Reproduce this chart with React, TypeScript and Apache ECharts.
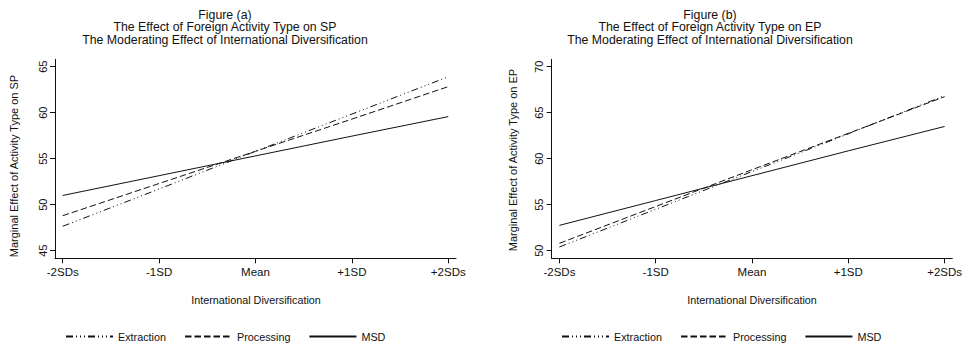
import React, { useEffect, useRef } from "react";
import * as echarts from "echarts";

const xValues = [-2, -1, 0, 1, 2];
const xTickLabels = ["-2SDs", "-1SD", "Mean", "+1SD", "+2SDs"];
const seriesNames = ["Extraction", "Processing", "MSD"];

// Figure (a): effect on SP
const spExtraction = [47.65, 51.7, 55.8, 59.85, 63.9];
const spProcessing = [48.8, 52.3, 55.8, 59.3, 62.83];
const spMSD = [51.0, 53.15, 55.3, 57.45, 59.57];
const spTicks = [45, 50, 55, 60, 65];

// Figure (b): effect on EP
const epExtraction = [50.4, 54.5, 58.6, 62.7, 66.85];
const epProcessing = [50.8, 54.8, 58.8, 62.75, 66.74];
const epMSD = [52.75, 55.45, 58.15, 60.85, 63.5];
const epTicks = [50, 55, 60, 65, 70];

const titlesA = [
  "Figure (a)",
  "The Effect of Foreign Activity Type on SP",
  "The Moderating Effect of International Diversification",
];
const titlesB = [
  "Figure (b)",
  "The Effect of Foreign Activity Type on EP",
  "The Moderating Effect of International Diversification",
];
const xAxisTitle = "International Diversification";
const yTitleA = "Marginal Effect of Activity Type on SP";
const yTitleB = "Marginal Effect of Activity Type on EP";

const FONT = "'Liberation Sans', Arial, Helvetica, sans-serif";
const INK = "#111";
const dashTypes: Record<string, any> = {
  Extraction: [7, 3, 1, 3, 1, 3, 1, 3],
  Processing: [6.5, 3],
  MSD: "solid",
};

export default function App() {
  const ref = useRef<HTMLDivElement>(null);
  useEffect(() => {
    if (!ref.current) return;
    const chart = echarts.init(ref.current, null, { renderer: "svg" });

    const pair = (vals: number[]) => xValues.map((x, i) => [x, vals[i]]);
    const mkSeries = (gi: number, data: number[][][]) =>
      seriesNames.map((name, k) => ({
        type: "line",
        name,
        xAxisIndex: gi,
        yAxisIndex: gi,
        data: data[k],
        symbol: "none",
        showSymbol: false,
        silent: true,
        lineStyle: { color: INK, width: 1, type: dashTypes[name] },
        itemStyle: { color: INK },
      }));

    const xAxis = (gi: number) => ({
      type: "value",
      gridIndex: gi,
      min: -2.08,
      max: 2.08,
      splitLine: { show: false },
      axisLine: { show: true, onZero: false, lineStyle: { color: INK, width: 1 } },
      axisTick: { show: true, length: 5, customValues: xValues, lineStyle: { color: INK } },
      axisLabel: {
        customValues: xValues,
        margin: 8,
        color: INK,
        fontFamily: FONT,
        fontSize: 11.5,
        formatter: (v: number) => xTickLabels[xValues.indexOf(Math.round(v))] ?? "",
      },
    });
    const yAxis = (gi: number, min: number, max: number, ticks: number[]) => ({
      type: "value",
      gridIndex: gi,
      min,
      max,
      splitLine: { show: false },
      axisLine: { show: true, onZero: false, lineStyle: { color: INK, width: 1 } },
      axisTick: { show: true, length: 5, customValues: ticks, lineStyle: { color: INK } },
      axisLabel: {
        customValues: ticks,
        rotate: 90,
        margin: 7,
        color: INK,
        fontFamily: FONT,
        fontSize: 11,
      },
    });

    const titleTexts = (lines: string[], cx: number) =>
      lines.map((t, i) => ({
        type: "text",
        x: cx,
        y: 14.5 + i * 12.5,
        style: {
          text: t,
          fill: INK,
          font: `12.3px ${FONT}`,
          align: "center",
          verticalAlign: "middle",
        },
      }));

    const legend = (left: number) => ({
      show: true,
      left,
      top: 331,
      orient: "horizontal",
      icon: "inherit",
      itemWidth: 47,
      itemHeight: 12,
      itemGap: 18,
      padding: 0,
      data: seriesNames,
      selectedMode: false,
      itemStyle: { opacity: 0 },
      textStyle: { color: INK, fontFamily: FONT, fontSize: 10.8 },
    });

    chart.setOption({
      animation: false,
      backgroundColor: "#fff",
      grid: [
        { left: 55, top: 59.3, width: 401, height: 199 },
        { left: 551.7, top: 59.3, width: 400.6, height: 199 },
      ],
      xAxis: [xAxis(0), xAxis(1)],
      yAxis: [yAxis(0, 44.17, 65.8, spTicks), yAxis(1, 49.17, 70.8, epTicks)],
      legend: [legend(65), legend(561)],
      series: [
        ...mkSeries(0, [pair(spExtraction), pair(spProcessing), pair(spMSD)]),
        ...mkSeries(1, [pair(epExtraction), pair(epProcessing), pair(epMSD)]),
      ],
      graphic: [
        ...titleTexts(titlesA, 225),
        ...titleTexts(titlesB, 710),
        {
          type: "text",
          x: 256,
          y: 300,
          style: { text: xAxisTitle, fill: INK, font: `10.8px ${FONT}`, align: "center", verticalAlign: "middle" },
        },
        {
          type: "text",
          x: 752,
          y: 300,
          style: { text: xAxisTitle, fill: INK, font: `10.8px ${FONT}`, align: "center", verticalAlign: "middle" },
        },
        {
          type: "text",
          x: 14,
          y: 166,
          rotation: Math.PI / 2,
          style: { text: yTitleA, fill: INK, font: `11px ${FONT}`, align: "center", verticalAlign: "middle" },
        },
        {
          type: "text",
          x: 513,
          y: 160,
          rotation: Math.PI / 2,
          style: { text: yTitleB, fill: INK, font: `11px ${FONT}`, align: "center", verticalAlign: "middle" },
        },
      ],
    });
    return () => chart.dispose();
  }, []);

  return (
    <div
      ref={ref}
      style={{ position: "fixed", left: 0, top: 0, width: 968, height: 348, background: "#fff" }}
    />
  );
}
